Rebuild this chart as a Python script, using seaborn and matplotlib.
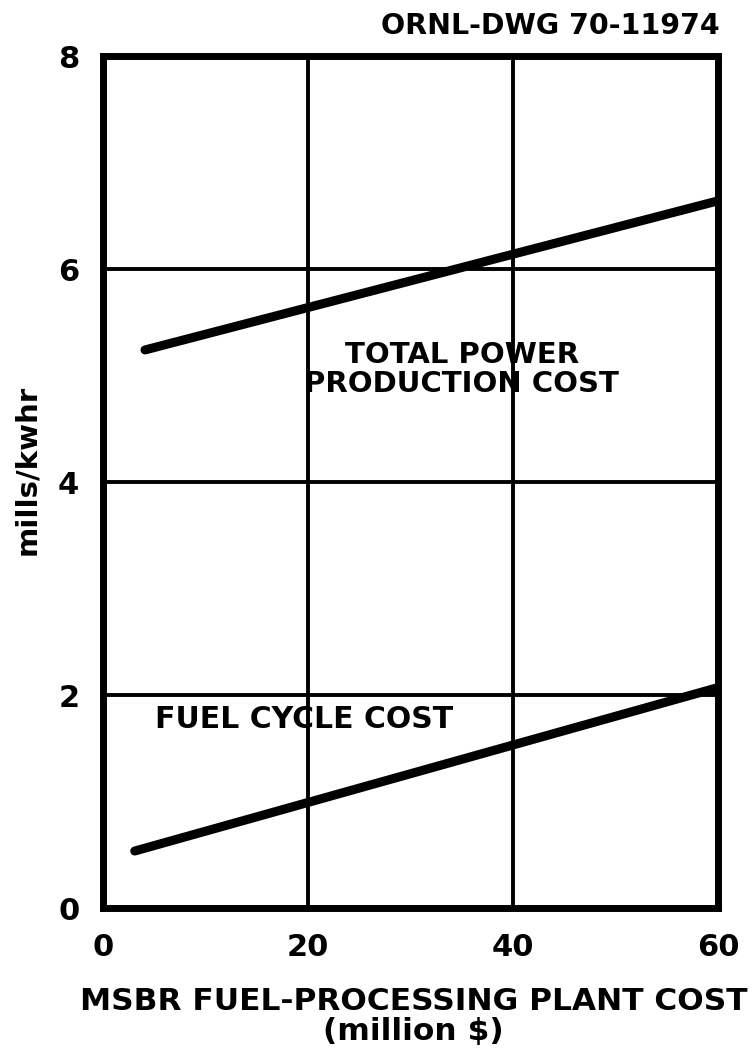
import matplotlib
matplotlib.use("Agg")
import matplotlib.pyplot as plt
import seaborn as sns
import pandas as pd

# Plant cost (million $) and resulting costs (mills/kwhr)
total_plant_cost = [4.1, 60]
total_cost = [5.24, 6.64]
fuel_plant_cost = [3.1, 60]
fuel_cycle_cost = [0.535, 2.07]

x_ticks = [0, 20, 40, 60]
y_ticks = [0, 2, 4, 6, 8]

sns.set_style("white")
plt.rcParams["font.family"] = ["DejaVu Sans"]
plt.rcParams["font.weight"] = "bold"
plt.rcParams["text.color"] = "black"
plt.rcParams["xtick.color"] = "black"
plt.rcParams["ytick.color"] = "black"
plt.rcParams["axes.labelcolor"] = "black"

df = pd.concat([
    pd.DataFrame({"plant": total_plant_cost, "cost": total_cost, "series": "total"}),
    pd.DataFrame({"plant": fuel_plant_cost, "cost": fuel_cycle_cost, "series": "fuel"}),
])

fig = plt.figure(figsize=(7.56, 10.53), dpi=100)
ax = fig.add_axes([0.1362, 0.1377, 0.8135, 0.8091])

sns.lineplot(data=df, x="plant", y="cost", units="series", estimator=None,
             color="black", linewidth=6.5, solid_capstyle="round", ax=ax, legend=False)

ax.set_xlim(0, 60)
ax.set_ylim(0, 8)
ax.set_xticks(x_ticks)
ax.set_yticks(y_ticks)
ax.grid(True, color="black", linewidth=2.8)
ax.set_axisbelow(True)
for s in ax.spines.values():
    s.set_color("black")
    s.set_linewidth(5.0)
ax.tick_params(axis="x", length=0, labelsize=22, pad=18)
ax.tick_params(axis="y", length=0, labelsize=22, pad=17)
for lbl in ax.get_xticklabels() + ax.get_yticklabels():
    lbl.set_fontweight("heavy")

ax.set_xlabel("MSBR FUEL-PROCESSING PLANT COST\n(million $)", fontsize=22.5,
              fontweight="heavy", linespacing=1.05)
ax.xaxis.set_label_coords(0.505, -0.093)
ax.set_ylabel("mills/kwhr", fontsize=21, fontweight="heavy", va="center")
ax.yaxis.set_label_coords(-0.124, 0.514)

ax.text(35.0, 5.06, "TOTAL POWER\nPRODUCTION COST", ha="center", va="center",
        fontsize=21, fontweight="heavy", linespacing=1.05)
ax.text(5.1, 1.77, "FUEL CYCLE COST", ha="left", va="center",
        fontsize=21.5, fontweight="heavy")

fig.text(720 / 756, 1 - 26 / 1053, "ORNL-DWG 70-11974", ha="right", va="center",
         fontsize=20.5, fontweight="heavy")

fig.savefig("out.png", dpi=100)
